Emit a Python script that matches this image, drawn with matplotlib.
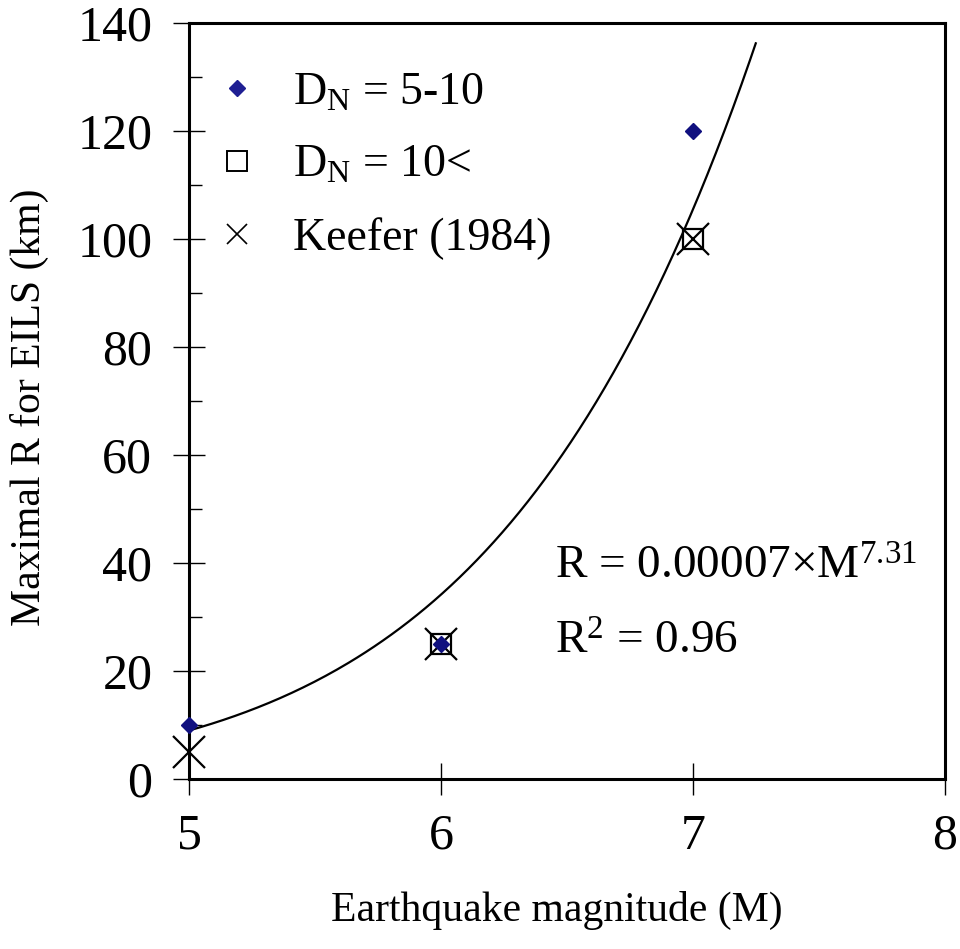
import numpy as np
import matplotlib
matplotlib.use("Agg")
import matplotlib.pyplot as plt
from matplotlib.lines import Line2D
from matplotlib.ticker import MultipleLocator

plt.rcParams['font.family'] = ['Liberation Serif', 'DejaVu Serif']
plt.rcParams['mathtext.fontset'] = 'custom'
plt.rcParams['mathtext.rm'] = 'Liberation Serif'
plt.rcParams['mathtext.it'] = 'Liberation Serif:italic'

# Data
dn_5_10_m = [5, 6, 7]
dn_5_10_r = [10, 25, 120]
dn_10_m = [6, 7]
dn_10_r = [25, 100]
keefer_m = [5, 6, 7]
keefer_r = [5, 25, 100]
fit_coef = 0.00007
fit_exp = 7.31
fit_range = (5.0, 7.25)
x_ticks = [5, 6, 7, 8]
y_ticks = [0, 20, 40, 60, 80, 100, 120, 140]

fig = plt.figure(figsize=(9.6, 9.49), dpi=100)
ax = fig.add_axes([0.197, 0.179, 0.787, 0.797])

mm = np.linspace(fit_range[0], fit_range[1], 200)
ax.plot(mm, fit_coef * mm ** fit_exp, color='black', lw=1.6, zorder=2)

ax.plot(keefer_m, keefer_r, linestyle='none', marker='x', ms=23, mew=1.6,
        color='black', zorder=3, clip_on=False)
ax.plot(dn_10_m, dn_10_r, linestyle='none', marker='s', ms=15, mew=1.6,
        mfc='none', mec='black', zorder=4, clip_on=False)
ax.plot(dn_5_10_m, dn_5_10_r, linestyle='none', marker='D', ms=8,
        color='#10107f', zorder=5, clip_on=False)

ax.set_xlim(5, 8)
ax.set_ylim(0, 140)
ax.set_xticks(x_ticks)
ax.set_yticks(y_ticks)
ax.yaxis.set_minor_locator(MultipleLocator(10))
ax.tick_params(axis='both', which='major', direction='inout', length=23,
               width=1.0, labelsize=36)
ax.tick_params(axis='x', which='major', pad=13)
ax.tick_params(axis='y', which='major', pad=15)
ax.tick_params(axis='y', which='minor', direction='in', length=9, width=1.0)
for s in ax.spines.values():
    s.set_linewidth(2.2)

ax.set_xlabel('Earthquake magnitude (M)', fontsize=30)
ax.xaxis.set_label_coords(0.487, -0.148)
ax.set_ylabel('Maximal R for EILS (km)', fontsize=30)
ax.yaxis.set_label_coords(-0.186, 0.492)

handles = [
    Line2D([], [], linestyle='none', marker='D', ms=8, color='#1f1f93'),
    Line2D([], [], linestyle='none', marker='s', ms=15, mfc='none', mec='black', mew=1.4),
    Line2D([], [], linestyle='none', marker='x', ms=15, mew=1.2, color='black'),
]
labels = [r'D$_\mathrm{N}$ = 5-10', r'D$_\mathrm{N}$ = 10<', 'Keefer (1984)']
ax.legend(handles, labels, loc='upper left', bbox_to_anchor=(0.033, 0.935),
          frameon=False, fontsize=33, handletextpad=0.72, labelspacing=0.66,
          borderaxespad=0.0, borderpad=0.0, handlelength=1.0)

ax.text(0.484, 0.280, r'R = 0.00007×M$^{7.31}$', transform=ax.transAxes,
        fontsize=34, ha='left', va='center')
ax.text(0.484, 0.181, r'R$^{2}$ = 0.96', transform=ax.transAxes,
        fontsize=34, ha='left', va='center')

fig.savefig('out.png', dpi=100)
